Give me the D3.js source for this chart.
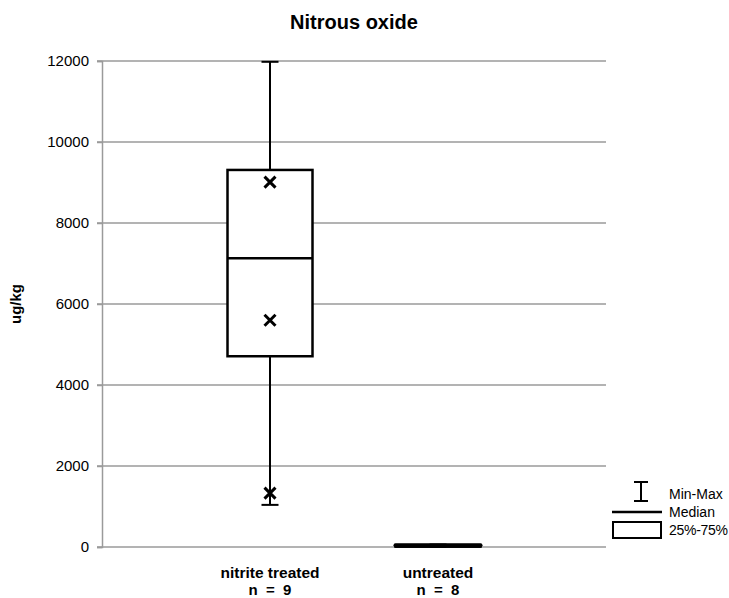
<!DOCTYPE html>
<html>
<head>
<meta charset="utf-8">
<script src="https://cdn.jsdelivr.net/npm/d3@7"></script>
<style>
  body { margin: 0; background: #fff; }
  text { font-family: "Liberation Sans", Arial, sans-serif; }
</style>
</head>
<body>
<div id="viz"></div>
<script>
var width = 729,
    height = 598;

// chart values
var categories = ["nitrite treated", "untreated"];
var counts = ["n  =  9", "n  =  8"];
var mins = [1040, 5];
var q1s = [4710, 8];
var medians = [7130, 20];
var q3s = [9310, 45];
var maxs = [11980, 60];
// the "x" markers (nitrite treated only)
var markerCat = ["nitrite treated", "nitrite treated", "nitrite treated"];
var markerVal = [9010, 5600, 1330];
var yTicks = [0, 2000, 4000, 6000, 8000, 10000, 12000];

var plotLeft = 102, plotRight = 606, plotTop = 61, plotBottom = 547;

var svg = d3.select("#viz").append("svg")
    .attr("width", width)
    .attr("height", height);

var x = d3.scalePoint().domain(categories).range([plotLeft, plotRight]).padding(1);
var y = d3.scaleLinear().domain([0, 12000]).range([plotBottom, plotTop]);
var boxW = 85, capW = 17;

// title
svg.append("text")
    .attr("x", 354).attr("y", 29)
    .attr("text-anchor", "middle")
    .attr("font-size", 20).attr("font-weight", "bold")
    .text("Nitrous oxide");

// gridlines
svg.append("g").selectAll("line")
    .data(yTicks)
    .enter().append("line")
    .attr("x1", plotLeft - 5).attr("x2", plotRight)
    .attr("y1", function(d) { return y(d); })
    .attr("y2", function(d) { return y(d); })
    .attr("stroke", "#9a9a9a").attr("stroke-width", 1.5);

// y axis
var yAxis = svg.append("g")
    .attr("transform", "translate(" + plotLeft + ",0)")
    .call(d3.axisLeft(y).tickValues(yTicks).tickSize(5).tickPadding(8).tickFormat(d3.format("d")));
yAxis.select(".domain").attr("stroke", "#9a9a9a").attr("stroke-width", 1.5);
yAxis.selectAll(".tick line").attr("stroke", "#9a9a9a").attr("stroke-width", 1.5);
yAxis.selectAll(".tick text")
    .attr("font-size", 15)
    .attr("font-family", "Liberation Sans, Arial, sans-serif")
    .attr("fill", "#000");

svg.append("text")
    .attr("transform", "translate(21," + y(6000) + ") rotate(-90)")
    .attr("text-anchor", "middle")
    .attr("font-size", 15).attr("font-weight", "bold")
    .text("ug/kg");

// boxes
var g = svg.append("g");
categories.forEach(function(c, i) {
    var cx = x(c);
    // whiskers
    g.append("line").attr("x1", cx).attr("x2", cx)
        .attr("y1", y(maxs[i])).attr("y2", y(q3s[i]))
        .attr("stroke", "#000").attr("stroke-width", 2);
    g.append("line").attr("x1", cx).attr("x2", cx)
        .attr("y1", y(q1s[i])).attr("y2", y(mins[i]))
        .attr("stroke", "#000").attr("stroke-width", 2);
    [maxs[i], mins[i]].forEach(function(v) {
        g.append("line").attr("x1", cx - capW / 2).attr("x2", cx + capW / 2)
            .attr("y1", y(v)).attr("y2", y(v))
            .attr("stroke", "#000").attr("stroke-width", 2);
    });
    // box
    g.append("rect")
        .attr("x", cx - boxW / 2).attr("width", boxW)
        .attr("y", y(q3s[i])).attr("height", Math.max(0, y(q1s[i]) - y(q3s[i])))
        .attr("fill", "#fff").attr("stroke", "#000").attr("stroke-width", 2.5);
    g.append("line").attr("x1", cx - boxW / 2).attr("x2", cx + boxW / 2)
        .attr("y1", y(medians[i])).attr("y2", y(medians[i]))
        .attr("stroke", "#000").attr("stroke-width", 2.5);

    // category labels
    svg.append("text").attr("x", cx).attr("y", 578)
        .attr("text-anchor", "middle").attr("font-size", 15.5).attr("font-weight", "bold")
        .text(c);
    svg.append("text").attr("x", cx).attr("y", 595)
        .attr("text-anchor", "middle").attr("font-size", 15).attr("font-weight", "bold")
        .style("white-space", "pre")
        .text(counts[i]);
});

// untreated box is so flat it shows as a thick bar
g.append("line")
    .attr("x1", x("untreated") - boxW / 2).attr("x2", x("untreated") + boxW / 2)
    .attr("y1", y(medians[1]) - 1).attr("y2", y(medians[1]) - 1)
    .attr("stroke", "#000").attr("stroke-width", 4).attr("stroke-linecap", "round");

// x markers
g.selectAll("path.mk")
    .data(markerVal)
    .enter().append("path")
    .attr("class", "mk")
    .attr("d", function(d, i) {
        var cx = x(markerCat[i]), cy = y(d), s = 5.5;
        return "M" + (cx - s) + "," + (cy - s) + "L" + (cx + s) + "," + (cy + s) +
            "M" + (cx + s) + "," + (cy - s) + "L" + (cx - s) + "," + (cy + s);
    })
    .attr("stroke", "#000").attr("stroke-width", 3);

// legend
var lg = svg.append("g");
lg.append("line").attr("x1", 641).attr("x2", 641).attr("y1", 482).attr("y2", 501)
    .attr("stroke", "#000").attr("stroke-width", 2);
lg.append("line").attr("x1", 634).attr("x2", 648).attr("y1", 482).attr("y2", 482)
    .attr("stroke", "#000").attr("stroke-width", 2);
lg.append("line").attr("x1", 634).attr("x2", 648).attr("y1", 501).attr("y2", 501)
    .attr("stroke", "#000").attr("stroke-width", 2);
lg.append("line").attr("x1", 612).attr("x2", 662).attr("y1", 512).attr("y2", 512)
    .attr("stroke", "#000").attr("stroke-width", 2.5);
lg.append("rect").attr("x", 613).attr("y", 522).attr("width", 48).attr("height", 16)
    .attr("fill", "#fff").attr("stroke", "#000").attr("stroke-width", 2);
var legendText = ["Min-Max", "Median", "25%-75%"];
lg.selectAll("text").data(legendText).enter().append("text")
    .attr("x", 669)
    .attr("y", function(d, i) { return 499 + i * 18; })
    .attr("font-size", 14)
    .attr("textLength", function(d) { return d === "25%-75%" ? 59 : null; })
    .text(function(d) { return d; });
</script>
</body>
</html>
